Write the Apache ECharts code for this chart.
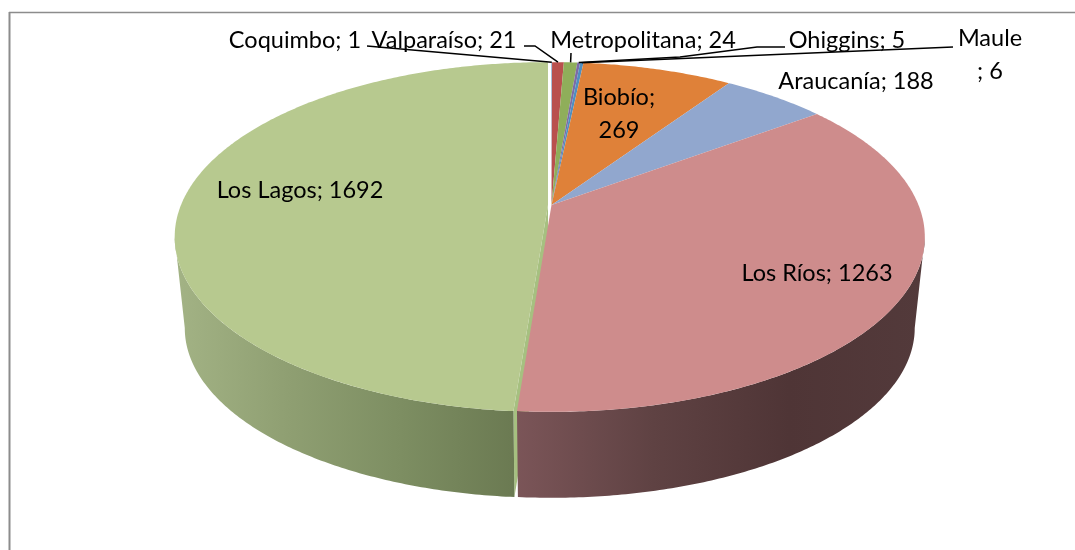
<!DOCTYPE html>
<html>
<head>
<meta charset="utf-8">
<style>
  html, body { margin: 0; padding: 0; background: #fff; }
  #chart { width: 1075px; height: 550px; }
</style>
<script src="https://cdn.jsdelivr.net/npm/echarts@6/dist/echarts.min.js"></script>
</head>
<body>
<div id="chart"></div>
<script>
const names = ['Coquimbo', 'Valparaíso', 'Metropolitana', 'Ohiggins', 'Maule', 'Biobío', 'Araucanía', 'Los Ríos', 'Los Lagos'];
const values = [1, 21, 24, 5, 6, 269, 188, 1263, 1692];
const topColors = ['#4f81bd', '#b9504e', '#8fae5a', '#7d6ba5', '#4f8fc0', '#df8139', '#91a7ce', '#ce8c8c', '#b7c98f'];

// side wall gradients, left to right
const sideColors = {
  'Los Ríos': ['#7b5558', '#5f4243', '#4f3536', '#533a3b'],
  'Los Lagos': ['#a3b385', '#8f9f72', '#7d8e62', '#6b7a52']
};

// label placement (centre of the text block)
const labelCenters = [
  [295, 40], [444, 40], [643, 40], [847, 40], [990, 55], [619, 114], [856, 81], [817, 273], [300, 190]
];

// leader lines, outer points only, the last point is taken on the rim
const leaderPoints = {
  'Coquimbo': [[367, 46]],
  'Valparaíso': [[524, 46], [535, 46]],
  'Metropolitana': [[571, 53]],
  'Ohiggins': [[785, 47], [757, 47], [680, 57]],
  'Maule': [[953, 47]]
};

const FONT = '23.5px Lato, Carlito, "Open Sans", sans-serif';

// pie geometry. a tilted disc, so the centre does not sit in the middle of the ellipse
const pie = { cx: 551.5, cy: 205, a: 367, b: 169, k: 0.183 };
const floor = { scale: 0.973, dy: 91, ry: 0.971, midY: 237 };
const explode = { 'Los Lagos': -3.5 };

const total = values.reduce((s, v) => s + v, 0);
const startAngle = (i) => values.slice(0, i).reduce((s, v) => s + v, 0) / total * Math.PI * 2;
const endAngle = (i) => startAngle(i) + values[i] / total * Math.PI * 2;

// rim angles where the disc is widest, only the part between them faces the viewer
const nearStart = Math.acos(-pie.k);
const nearEnd = Math.PI * 2 - nearStart;

const project = (t, r, i) => {
  const u = Math.sin(t) * r;
  const v = -Math.cos(t) * r;
  const d = 1 - pie.k * v;
  return [pie.cx + (explode[names[i]] || 0) + pie.a * u / d, pie.cy + pie.b * v / d];
};

const lower = (p, i) => {
  const cx = pie.cx + (explode[names[i]] || 0);
  return [cx + (p[0] - cx) * floor.scale, floor.midY + floor.dy + (p[1] - floor.midY) * floor.ry];
};

const rimArc = (i, a0, a1) => {
  const pts = [];
  const n = Math.max(2, Math.ceil((a1 - a0) / 0.01));
  for (let j = 0; j <= n; j++) pts.push(project(a0 + (a1 - a0) * j / n, 1, i));
  return pts;
};

const renderWalls = (params) => {
  const i = params.dataIndex;
  // cut wall of the pulled out slice, it shows through the gap
  if (!explode[names[i]]) return null;
  const apex = project(0, 0, i);
  const edge = project(startAngle(i), 1, i);
  return {
    type: 'polygon',
    shape: { points: [apex, edge, lower(edge, i), lower(apex, i)] },
    style: { fill: '#a6c080' }
  };
};

const renderSides = (params) => {
  const i = params.dataIndex;
  const stops = sideColors[names[i]];
  if (!stops) return null;
  const a0 = Math.max(startAngle(i), nearStart);
  const a1 = Math.min(endAngle(i), nearEnd);
  const rim = rimArc(i, a0, a1);
  const base = rim.map((p) => lower(p, i)).reverse();
  const xs = rim.map((p) => p[0]);
  const fill = {
    type: 'linear',
    global: true,
    x: Math.min(...xs),
    y: 0,
    x2: Math.max(...xs),
    y2: 0,
    colorStops: stops.map((c, s) => ({ offset: s / (stops.length - 1), color: c }))
  };
  return { type: 'polygon', shape: { points: rim.concat(base) }, style: { fill } };
};

const renderTops = (params) => {
  const i = params.dataIndex;
  const points = [project(0, 0, i)].concat(rimArc(i, startAngle(i), endAngle(i)));
  return { type: 'polygon', shape: { points }, style: { fill: topColors[i] } };
};

const renderLeaders = (params) => {
  const i = params.dataIndex;
  const outer = leaderPoints[names[i]];
  if (!outer) return null;
  const rim = project((startAngle(i) + endAngle(i)) / 2, 1, i);
  return {
    type: 'polyline',
    shape: { points: outer.concat([rim]) },
    style: { fill: null, stroke: '#000', lineWidth: 1.5 }
  };
};

const labelText = (i) => {
  if (names[i] === 'Biobío') return `${names[i]};\n${values[i]}`;
  if (names[i] === 'Maule') return `${names[i]}\n; ${values[i]}`;
  return `${names[i]}; ${values[i]}`;
};

const renderLabels = (params) => {
  const i = params.dataIndex;
  return {
    type: 'text',
    style: {
      text: labelText(i),
      x: labelCenters[i][0],
      y: labelCenters[i][1],
      font: FONT,
      lineHeight: 33,
      fill: '#000',
      align: 'center',
      verticalAlign: 'middle'
    }
  };
};

const seriesData = names.map((n, i) => [n, values[i]]);
const layer = (renderItem) => ({
  type: 'custom',
  coordinateSystem: 'none',
  silent: true,
  animation: false,
  data: seriesData,
  renderItem
});

const chart = echarts.init(document.getElementById('chart'), null, { renderer: 'canvas' });
chart.setOption({
  animation: false,
  backgroundColor: '#fff',
  // frame of the pasted chart, only top and left survive the crop
  graphic: [
    { type: 'line', shape: { x1: 9, y1: 12.5, x2: 1075, y2: 12.5 }, style: { stroke: '#8c8c8c', lineWidth: 1.5 } },
    { type: 'line', shape: { x1: 9.5, y1: 12, x2: 9.5, y2: 550 }, style: { stroke: '#8c8c8c', lineWidth: 2 } }
  ],
  series: [layer(renderWalls), layer(renderSides), layer(renderTops), layer(renderLeaders), layer(renderLabels)]
});
</script>
</body>
</html>
